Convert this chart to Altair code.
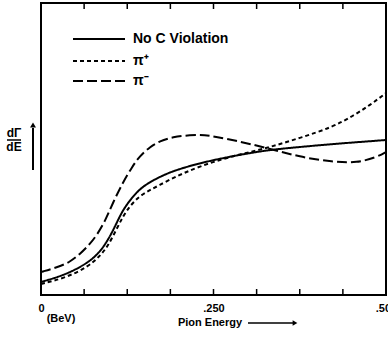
import altair as alt
import pandas as pd

# Decay spectrum dΓ/dE versus pion energy (BeV); vertical scale in arbitrary units
series_names = ["No C Violation", "π⁺", "π⁻"]

energy_none = [0.0, 0.035, 0.068, 0.0855, 0.097, 0.107, 0.117, 0.129, 0.143, 0.158,
               0.172, 0.191, 0.230, 0.278, 0.328, 0.375, 0.423, 0.462, 0.5]
rate_none = [13, 20, 32, 43, 55, 68, 83, 95, 106, 113, 118, 124, 132, 139, 145,
             148, 151, 153, 155]

energy_plus = [0.0, 0.035, 0.068, 0.0855, 0.097, 0.109, 0.119, 0.130, 0.143, 0.158,
               0.172, 0.191, 0.230, 0.278, 0.328, 0.375, 0.423, 0.452, 0.477, 0.5]
rate_plus = [11, 17, 28, 39, 49, 65, 79, 90, 99, 105, 110, 117, 129, 139, 147, 157,
             168, 179, 190, 202]

energy_minus = [0.0, 0.025, 0.042, 0.0565, 0.071, 0.081, 0.093, 0.104, 0.119, 0.132,
                0.143, 0.158, 0.172, 0.191, 0.216, 0.238, 0.255, 0.278, 0.328, 0.375,
                0.423, 0.458, 0.487, 0.5]
rate_minus = [23, 28, 33, 41, 51, 60, 74, 92, 113, 128, 139, 148, 154, 158, 160,
              160, 158, 155, 147, 138, 133, 132, 138, 143]

tick_energies = [0.0, 0.0625, 0.125, 0.1875, 0.25, 0.3125, 0.375, 0.4375, 0.5]
labelled = {0.0: "0", 0.25: ".250", 0.5: ".500"}

W, H = 345, 292
FONT = "Liberation Sans"
KEY_ROWS = [36, 58, 78]

frames = []
for name, e, r in [(series_names[0], energy_none, rate_none),
                   (series_names[1], energy_plus, rate_plus),
                   (series_names[2], energy_minus, rate_minus)]:
    frames.append(pd.DataFrame({"energy": e, "rate": r, "series": name}))
curves = pd.concat(frames, ignore_index=True)

dash_scale = alt.Scale(domain=series_names, range=[[1, 0], [4, 3], [10, 4]])

label_expr = " : ".join(
    [f"datum.value == {k} ? '{v}'" for k, v in labelled.items()]) + " : ''"

x_scale = alt.Scale(domain=[0, 0.5], nice=False, zero=False)

lines = alt.Chart(curves).mark_line(
    color="black", strokeWidth=2, interpolate="basis"
).encode(
    x=alt.X("energy:Q", scale=x_scale,
            axis=alt.Axis(values=tick_energies, labelExpr=label_expr, ticks=False,
                          domain=False, grid=False, title=None, labelFont=FONT,
                          labelFontSize=11, labelFontWeight="bold", labelColor="black",
                          labelPadding=7, labelFlush=False)),
    y=alt.Y("rate:Q", scale=alt.Scale(domain=[0, H], nice=False), axis=None),
    strokeDash=alt.StrokeDash("series:N", scale=dash_scale, legend=None),
    detail="series:N",
)

ticks_df = pd.DataFrame({"energy": tick_energies})
bottom_ticks = alt.Chart(ticks_df).mark_rule(color="black", strokeWidth=1.5).encode(
    x=alt.X("energy:Q", scale=x_scale), y=alt.value(H - 6), y2=alt.value(H))
top_ticks = alt.Chart(ticks_df).mark_rule(color="black", strokeWidth=1.5).encode(
    x=alt.X("energy:Q", scale=x_scale), y=alt.value(0), y2=alt.value(6))

# key in the upper left corner, one row per series
key_df = pd.DataFrame({"series": series_names})
key_layers = []
for name, row_y in zip(series_names, KEY_ROWS):
    row = alt.Chart(key_df).transform_filter(alt.datum.series == name)
    key_layers.append(row.mark_rule(color="black", strokeWidth=2).encode(
        x=alt.value(32), x2=alt.value(84), y=alt.value(row_y),
        strokeDash=alt.StrokeDash("series:N", scale=dash_scale, legend=None)))
    key_layers.append(row.mark_text(
        align="left", baseline="middle", font=FONT, fontSize=14, fontWeight="bold",
        color="black").encode(x=alt.value(92), y=alt.value(row_y), text="series:N"))

one = pd.DataFrame({"a": [0]})

def label(txt, x, y, size=11, align="center"):
    return alt.Chart(one).mark_text(
        text=txt, align=align, baseline="middle", font=FONT, fontSize=size,
        fontWeight="bold", color="black").encode(x=alt.value(x), y=alt.value(y))

# y-axis label dΓ/dE with an upward arrow
y_num = label("dΓ", -27, 130, 12)
y_den = label("dE", -27, 144, 12)
y_bar = alt.Chart(one).mark_rule(color="black", strokeWidth=1.5).encode(
    x=alt.value(-34), x2=alt.value(-20), y=alt.value(137))
y_arrow = alt.Chart(one).mark_rule(color="black", strokeWidth=2).encode(
    x=alt.value(-8), y=alt.value(125), y2=alt.value(167))
y_head = alt.Chart(one).mark_point(
    shape="triangle-up", filled=True, size=35, color="black", opacity=1).encode(
    x=alt.value(-8), y=alt.value(122))

# x-axis units and title with a rightward arrow
x_units = label("(BeV)", 20, H + 24, 11)
x_title = label("Pion Energy", 169, H + 28, 11)
x_arrow = alt.Chart(one).mark_rule(color="black", strokeWidth=1.5).encode(
    x=alt.value(207), x2=alt.value(252), y=alt.value(H + 28))
x_head = alt.Chart(one).mark_point(
    shape="triangle-right", filled=True, size=30, color="black", opacity=1).encode(
    x=alt.value(254), y=alt.value(H + 28))

chart = alt.layer(
    lines, bottom_ticks, top_ticks, *key_layers,
    y_num, y_den, y_bar, y_arrow, y_head, x_units, x_title, x_arrow, x_head
).properties(
    width=W, height=H,
    autosize=alt.AutoSizeParams(type="none"),
    padding={"left": 41, "top": 3, "right": 2, "bottom": 44},
    background="white",
).configure_view(stroke="black", strokeWidth=2)

chart.save("out.html", embed_options={"renderer": "svg", "actions": False})
